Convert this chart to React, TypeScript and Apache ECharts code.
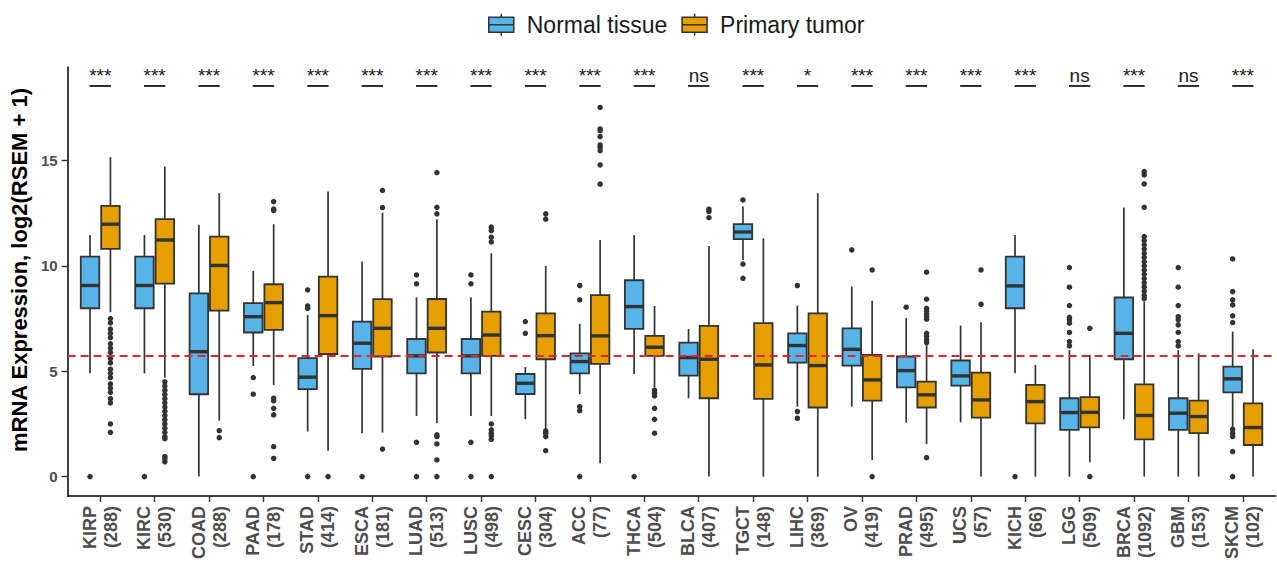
import React, { useEffect, useRef } from 'react';
import * as echarts from 'echarts';

const categories = ['KIRP','KIRC','COAD','PAAD','STAD','ESCA','LUAD','LUSC','CESC','ACC','THCA','BLCA','TGCT','LIHC','OV','PRAD','UCS','KICH','LGG','BRCA','GBM','SKCM'];
const sampleCounts = [288,530,288,178,414,181,513,498,304,77,504,407,148,369,419,495,57,66,509,1092,153,102];
const sigLabels = ['***','***','***','***','***','***','***','***','***','***','***','ns','***','*','***','***','***','***','ns','***','ns','***'];

// [lower whisker, Q1, median, Q3, upper whisker]
const normalStats = [
  [4.9, 7.99, 9.07, 10.44, 11.47],
  [4.9, 7.99, 9.07, 10.44, 11.47],
  [0, 3.91, 5.93, 8.7, 11.95],
  [5.25, 6.84, 7.59, 8.23, 9.76],
  [2.14, 4.15, 4.72, 5.62, 7.67],
  [2.06, 5.11, 6.33, 7.36, 10.21],
  [2.88, 4.9, 5.73, 6.53, 8.51],
  [2.88, 4.9, 5.73, 6.53, 8.51],
  [2.72, 3.92, 4.43, 4.87, 5.2],
  [3.91, 4.9, 5.46, 5.85, 7.25],
  [4.87, 7.01, 8.07, 9.32, 11.47],
  [3.72, 4.79, 5.65, 6.36, 7.01],
  [10.28, 11.27, 11.61, 11.98, 12.82],
  [3.32, 5.41, 6.22, 6.8, 8.12],
  [3.32, 5.27, 6.04, 7.04, 9.02],
  [2.56, 4.24, 5.03, 5.7, 7.52],
  [2.58, 4.32, 4.78, 5.51, 7.17],
  [4.9, 7.99, 9.05, 10.44, 11.47],
  [0, 2.22, 3.04, 3.72, 6.0],
  [2.72, 5.57, 6.8, 8.5, 12.77],
  [0, 2.22, 3.01, 3.72, 6.0],
  [2.29, 4.0, 4.64, 5.22, 6.88],
];

const tumorStats = [
  [7.8, 10.81, 11.98, 12.85, 15.16],
  [4.7, 9.16, 11.23, 12.22, 14.72],
  [2.66, 7.88, 10.02, 11.39, 13.45],
  [4.35, 6.96, 8.26, 9.13, 11.98],
  [1.23, 5.82, 7.64, 9.49, 13.53],
  [2.09, 5.7, 7.04, 8.42, 12.53],
  [2.53, 5.89, 7.04, 8.43, 12.22],
  [2.88, 5.73, 6.72, 7.83, 10.6],
  [2.25, 5.57, 6.69, 7.75, 10.0],
  [0.63, 5.35, 6.68, 8.61, 11.23],
  [4.25, 5.73, 6.14, 6.68, 8.1],
  [0, 3.72, 5.57, 7.15, 10.95],
  [0, 3.69, 5.3, 7.28, 11.31],
  [0, 3.28, 5.27, 7.75, 13.45],
  [0.79, 3.61, 4.59, 5.78, 8.35],
  [1.55, 3.28, 3.88, 4.51, 6.25],
  [0, 2.8, 3.64, 4.94, 7.33],
  [0, 2.53, 3.56, 4.35, 5.3],
  [0.68, 2.34, 3.05, 3.77, 5.78],
  [0, 1.77, 2.9, 4.38, 8.31],
  [0, 2.06, 2.85, 3.61, 5.85],
  [0, 1.5, 2.33, 3.48, 6.04],
];

const normalOutliers = [
  [0],
  [0],
  [],
  [4.7, 3.91, 0],
  [8.86, 8.1, 7.99, 0],
  [0],
  [9.57, 9.15, 1.63, 0],
  [9.57, 9.15, 1.63, 0],
  [7.36, 6.8],
  [9.07, 8.39, 3.32, 3.13, 0],
  [0],
  [],
  [13.13, 10.09, 9.41],
  [9.07, 3.09, 2.77],
  [10.76],
  [8.04],
  [],
  [0],
  [9.92, 8.99, 8.12, 7.56, 7.44, 7.28, 6.84, 6.41, 6.2],
  [],
  [9.92, 8.99, 8.12, 7.59, 7.44, 7.2, 6.84, 6.41, 6.2],
  [10.33, 8.78, 8.39, 8.15, 7.63, 7.31, 2.25, 2.06, 1.9, 1.19, 0],
];

const tumorOutliers = [
  [7.5, 7.3, 7.0, 6.8, 6.6, 6.3, 6.1, 5.9, 5.6, 5.4, 5.1, 4.9, 4.7, 4.4, 4.2, 4.0, 3.7, 3.5, 2.5, 2.1],
  [4.5, 4.3, 4.1, 3.9, 3.7, 3.5, 3.3, 3.1, 2.9, 2.7, 2.5, 2.3, 2.1, 1.9, 1.8, 0.95, 0.85, 0.7],
  [2.18, 1.85],
  [13.05, 12.7, 12.63, 3.72, 3.6, 3.24, 2.93, 1.42, 0.87],
  [0],
  [13.58, 12.77, 1.31],
  [14.43, 12.78, 12.47, 1.98, 1.9, 1.55, 0.79, 0],
  [11.84, 11.68, 11.36, 11.14, 2.5, 2.22, 2.06, 1.93, 1.77, 0],
  [12.47, 12.22, 2.17, 2.06, 1.9, 1.23],
  [17.52, 16.5, 16.42, 16.14, 15.74, 15.63, 15.47, 14.79, 13.88],
  [4.11, 3.96, 3.83, 3.24, 2.72, 2.06],
  [12.69, 12.58, 12.29],
  [],
  [],
  [9.81, 0],
  [9.7, 8.42, 7.99, 7.85, 7.72, 7.59, 7.47, 6.8, 6.65, 6.5, 6.36, 0.9],
  [9.81, 8.18],
  [],
  [7.04, 0],
  [14.48, 14.32, 13.89, 12.78, 11.39, 11.2, 11.0, 10.8, 10.6, 10.4, 10.2, 10.0, 9.8, 9.6, 9.4, 9.2, 9.0, 8.8, 8.6, 8.45],
  [],
  [],
];

const yTicks = [0, 5, 10, 15];
const thresholdValue = 5.73;
const sigLineValue = 18.54;
const sigTextValue = 18.6;

const FONT = "'Liberation Sans', Arial, Helvetica, sans-serif";
const EDGE = '#333333';
const NORMAL_COLOR = '#56B4E9';
const TUMOR_COLOR = '#E69F00';
const DODGE = 0.1875;
const BOX_W = 0.34;

function boxRender(fill: string) {
  return (params: any, api: any) => {
    const x = api.value(0);
    const low = api.coord([x, api.value(1)]);
    const q1 = api.coord([x, api.value(2)]);
    const med = api.coord([x, api.value(3)]);
    const q3 = api.coord([x, api.value(4)]);
    const high = api.coord([x, api.value(5)]);
    const w = api.size([BOX_W, 0])[0];
    const cx = low[0];
    return {
      type: 'group',
      children: [
        { type: 'line', shape: { x1: cx, y1: high[1], x2: cx, y2: q3[1] }, style: { stroke: EDGE, lineWidth: 1.7 } },
        { type: 'line', shape: { x1: cx, y1: q1[1], x2: cx, y2: low[1] }, style: { stroke: EDGE, lineWidth: 1.7 } },
        { type: 'rect', shape: { x: cx - w / 2, y: q3[1], width: w, height: q1[1] - q3[1] }, style: { fill, stroke: EDGE, lineWidth: 1.8 } },
        { type: 'line', shape: { x1: cx - w / 2, y1: med[1], x2: cx + w / 2, y2: med[1] }, style: { stroke: EDGE, lineWidth: 3.4 } },
      ],
    };
  };
}

export default function App() {
  const ref = useRef<HTMLDivElement>(null);
  useEffect(() => {
    document.body.style.margin = '0';
    const chart = echarts.init(ref.current!, null, { renderer: 'svg' });

    const normalData = normalStats.map((s, i) => [i - DODGE, ...s]);
    const tumorData = tumorStats.map((s, i) => [i + DODGE, ...s]);
    const normalOut: number[][] = [];
    normalOutliers.forEach((arr, i) => arr.forEach((v) => normalOut.push([i - DODGE, v])));
    const tumorOut: number[][] = [];
    tumorOutliers.forEach((arr, i) => arr.forEach((v) => tumorOut.push([i + DODGE, v])));
    const sigData = categories.map((_, i) => [i, sigLineValue]);
    const idx = categories.map((_, i) => i);

    const option: any = {
      animation: false,
      backgroundColor: '#ffffff',
      textStyle: { fontFamily: FONT },
      legend: {
        data: ['Normal tissue', 'Primary tumor'],
        left: 483,
        top: 8,
        itemWidth: 25,
        itemHeight: 22,
        itemGap: 14,
        icon: 'path://M12.5,0L12.5,3.5M0,3.5L25,3.5L25,18.5L0,18.5ZM0,11L25,11M12.5,18.5L12.5,22',
        itemStyle: { borderColor: EDGE, borderWidth: 1.5 },
        textStyle: { fontSize: 23, color: '#1a1a1a', fontFamily: FONT, padding: [0, 0, 0, 8] },
      },
      grid: { left: 65.5, right: 1.5, top: 67, bottom: 68, containLabel: false },
      xAxis: {
        type: 'value',
        min: -0.6,
        max: 21.6,
        splitLine: { show: false },
        axisLine: { show: true, onZero: false, lineStyle: { color: '#000', width: 1.5 } },
        axisTick: { show: true, customValues: idx, length: 6, lineStyle: { color: EDGE, width: 1.4 } },
        axisLabel: {
          show: true,
          customValues: idx,
          rotate: 90,
          margin: 10,
          fontSize: 18,
          lineHeight: 21,
          fontWeight: 'bold',
          color: '#4D4D4D',
          fontFamily: FONT,
          formatter: (v: number) => `${categories[Math.round(v)]}\n(${sampleCounts[Math.round(v)]})`,
        },
      },
      yAxis: {
        type: 'value',
        min: -0.92,
        max: 19.44,
        name: 'mRNA Expression, log2(RSEM + 1)',
        nameLocation: 'middle',
        nameRotate: 90,
        nameGap: 27,
        nameTextStyle: { fontSize: 22, fontWeight: 'bold', color: '#000', fontFamily: FONT, padding: [0, 0, 0, 23] },
        splitLine: { show: false },
        axisLine: { show: true, onZero: false, lineStyle: { color: '#000', width: 1.5 } },
        axisTick: { show: true, customValues: yTicks, length: 6, lineStyle: { color: EDGE, width: 1.4 } },
        axisLabel: { show: true, customValues: yTicks, margin: 10, fontSize: 15, fontWeight: 'bold', color: '#4D4D4D', fontFamily: FONT },
      },
      series: [
        {
          name: 'Normal tissue',
          type: 'custom',
          color: NORMAL_COLOR,
          itemStyle: { color: NORMAL_COLOR },
          renderItem: boxRender(NORMAL_COLOR),
          encode: { x: 0, y: [1, 2, 3, 4, 5] },
          data: normalData,
          z: 2,
        },
        {
          name: 'Primary tumor',
          type: 'custom',
          color: TUMOR_COLOR,
          itemStyle: { color: TUMOR_COLOR },
          renderItem: boxRender(TUMOR_COLOR),
          encode: { x: 0, y: [1, 2, 3, 4, 5] },
          data: tumorData,
          z: 2,
        },
        {
          name: 'Normal outliers',
          type: 'scatter',
          symbol: 'circle',
          symbolSize: 5.5,
          itemStyle: { color: EDGE, opacity: 1 },
          data: normalOut,
          z: 3,
        },
        {
          name: 'Tumor outliers',
          type: 'scatter',
          symbol: 'circle',
          symbolSize: 5.5,
          itemStyle: { color: EDGE, opacity: 1 },
          data: tumorOut,
          z: 3,
        },
        {
          name: 'Significance',
          type: 'custom',
          z: 5,
          data: sigData,
          encode: { x: 0, y: 1 },
          renderItem: (params: any, api: any) => {
            const i = api.value(0);
            const l = api.coord([i - 0.196, sigLineValue]);
            const r = api.coord([i + 0.196, sigLineValue]);
            const t = api.coord([i, sigTextValue]);
            return {
              type: 'group',
              children: [
                { type: 'line', shape: { x1: l[0], y1: l[1], x2: r[0], y2: r[1] }, style: { stroke: '#1a1a1a', lineWidth: 1.8 } },
                {
                  type: 'text',
                  x: t[0],
                  y: t[1],
                  style: { text: sigLabels[params.dataIndex], fontSize: 19, fontFamily: FONT, fill: '#1a1a1a', align: 'center', verticalAlign: 'bottom' },
                },
              ],
            };
          },
          markLine: {
            silent: true,
            symbol: 'none',
            label: { show: false },
            lineStyle: { color: '#E4232A', type: [8, 5], width: 2 },
            data: [{ yAxis: thresholdValue }],
          },
        },
      ],
    };
    chart.setOption(option);
    return () => chart.dispose();
  }, []);
  return <div ref={ref} style={{ width: 1277, height: 564 }} />;
}
